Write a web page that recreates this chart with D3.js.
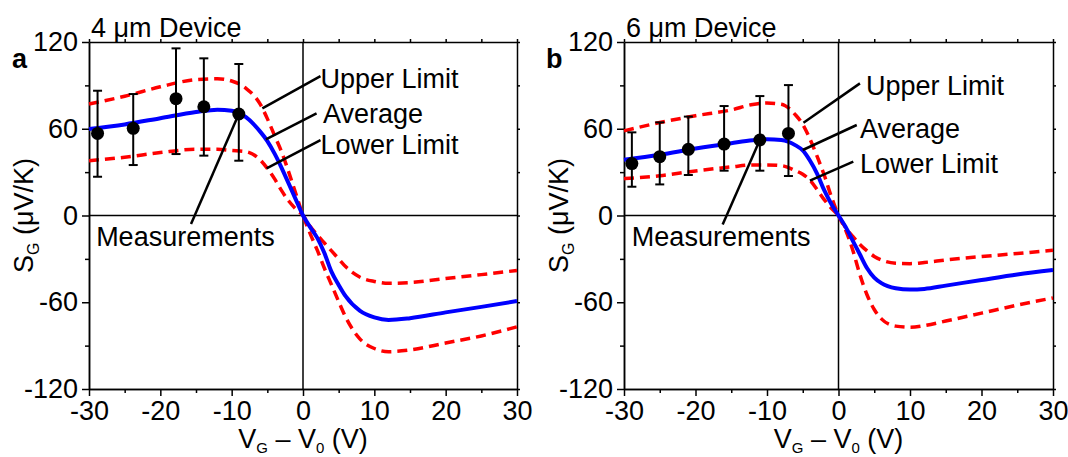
<!DOCTYPE html>
<html>
<head>
<meta charset="utf-8">
<script src="https://cdn.jsdelivr.net/npm/d3@7"></script>
<style>
body { margin: 0; background: #fff; }
svg { display: block; }
</style>
</head>
<body>
<div class="viz"></div>
<script>
// gate voltage grid shared by all model curves
var xGrid = [-30, -25, -20, -15, -12, -10, -8, -6, -5, -4, -3, -2, -1, 0,
             1, 2, 3, 4, 5, 6, 8, 10, 12, 15, 20, 25, 30];

// 4 um device
var aAvg   = [59.8, 63, 67.3, 71.6, 73.2, 72.5, 68, 58, 51.5, 43, 33, 22, 11, 0,
              -8, -15.5, -26, -39, -48, -56, -66, -70.5, -72.2, -71, -67, -63.2, -59.2];
var aUpper = [77.1, 82.5, 89, 94, 94.6, 93, 88, 77, 67, 55.5, 44, 30, 15, 0,
              -12.5, -24, -36.5, -48, -59.5, -70.5, -85.5, -92, -94.2, -93, -88.2, -83.3, -77];
var aLower = [37.9, 40.3, 43.5, 45.8, 45.8, 45, 44.2, 38.5, 32.6, 25.5, 17.2, 10, 4.5, 0,
              -7.5, -13.5, -19, -24.5, -30, -35.5, -42.7, -45.6, -46.9, -46.4, -43.6, -40.9, -38];
var aMeasX  = [-28.8, -23.8, -17.8, -13.9, -9.0];
var aMeasY  = [56.8, 60.3, 80.8, 75.2, 70.2];
var aErrHi  = [86.3, 84, 115.6, 108.7, 104.8];
var aErrLo  = [26.8, 34.9, 42.5, 41.4, 37.9];

// 6 um device
var bAvg   = [38.6, 42, 46.3, 50, 52, 52.7, 52.2, 48.5, 45, 38, 29, 17.5, 8, 0,
              -8, -17.5, -27, -36.5, -43, -46.8, -50.3, -51.2, -50.8, -48.5, -44.6, -40.8, -37.7];
var bUpper = [58.5, 64.3, 69, 73, 76.8, 77.8, 77, 69.5, 63, 53, 41, 28, 13, 0,
              -10, -24, -41, -55, -65, -71.5, -76.5, -77.3, -76.2, -73, -67.5, -62, -57];
var bLower = [25.5, 27.5, 30.8, 33.6, 35, 35, 34.5, 31, 28.5, 24.5, 18, 11, 5, 0,
              -8.5, -14.5, -20, -24.5, -28.3, -30.8, -33, -33.3, -32.5, -30.8, -28.4, -26.3, -24];
var bMeasX  = [-28.9, -25, -21, -16, -11, -7];
var bMeasY  = [35.9, 40.7, 45.8, 49.4, 52.2, 56.8];
var bErrHi  = [57.5, 64.4, 68.4, 75.7, 82.6, 90.2];
var bErrLo  = [19.9, 21.5, 28, 31, 31, 27.3];

var xTicks = [-30, -20, -10, 0, 10, 20, 30];
var xMinor = [-25, -15, -5, 5, 15, 25];
var yTicks = [-120, -60, 0, 60, 120];
var yMinor = [-90, -30, 30, 90];
var curveNames = ["Upper Limit", "Average", "Lower Limit"];

var FONT = "'Liberation Sans', Arial, Helvetica, sans-serif";

var svg = d3.select(".viz").append("svg")
    .attr("width", 1068)
    .attr("height", 457)
    .attr("font-family", FONT);

var panels = [
  { left: 89, right: 517, letter: "a", letterX: 12, title: "4 μm Device",
    avg: aAvg, upper: aUpper, lower: aLower,
    mx: aMeasX, my: aMeasY, hi: aErrHi, lo: aErrLo,
    // callouts in data units: [textX, textY, lineX1, lineY1, lineX2, lineY2]
    callouts: [[2.45, 95, 2.45, 96.4, -5.7, 74.1],
               [2.8, 70.7, 1.9, 70.7, -5.2, 52.7],
               [2.45, 49.4, 2.45, 52.2, -5.1, 32.6]],
    meas: [-29, -14.9, -15.7, -5.9, 4] },
  { left: 624, right: 1053, letter: "b", letterX: 546, title: "6 μm Device",
    avg: bAvg, upper: bUpper, lower: bLower,
    mx: bMeasX, my: bMeasY, hi: bErrHi, lo: bErrLo,
    callouts: [[3.85, 90.2, 3.0, 91.4, -4.9, 64.2],
               [3.0, 60.3, 2.55, 62.6, -5.0, 45.3],
               [3.0, 36.1, 2.07, 37.2, -4.0, 24.1]],
    meas: [-28.9, -14.9, -16.2, -6.3, 4] }
];

panels.forEach(function(p) { draw(p); });

function styleAxis(g) {
  g.attr("font-size", 27).attr("font-family", FONT);
  g.selectAll("path, line").attr("stroke", "#000").attr("stroke-width", 1.5);
  g.selectAll("text").attr("fill", "#000");
}

function draw(p) {
  var x = d3.scaleLinear().domain([-30, 30]).range([p.left, p.right]);
  var y = d3.scaleLinear().domain([-120, 120]).range([389, 42]);
  var g = svg.append("g");
  var fmt = function(d) { return String(d); };

  // zero lines
  g.append("line")
    .attr("x1", x(-30)).attr("x2", x(30)).attr("y1", y(0)).attr("y2", y(0))
    .attr("stroke", "#000").attr("stroke-width", 1.5);
  g.append("line")
    .attr("x1", x(0)).attr("x2", x(0)).attr("y1", y(-120)).attr("y2", y(120))
    .attr("stroke", "#000").attr("stroke-width", 1.5);

  // axes: major + minor ticks, mirrored frame
  g.append("g").attr("transform", "translate(0," + y(-120) + ")")
    .call(d3.axisBottom(x).tickValues(xTicks).tickSize(7).tickPadding(5).tickSizeOuter(0).tickFormat(fmt))
    .call(styleAxis);
  g.append("g").attr("transform", "translate(0," + y(-120) + ")")
    .call(d3.axisBottom(x).tickValues(xMinor).tickSize(4).tickSizeOuter(0).tickFormat(""))
    .call(styleAxis);
  g.append("g").attr("transform", "translate(" + x(-30) + ",0)")
    .call(d3.axisLeft(y).tickValues(yTicks).tickSize(7).tickPadding(4).tickSizeOuter(0).tickFormat(fmt))
    .call(styleAxis);
  g.append("g").attr("transform", "translate(" + x(-30) + ",0)")
    .call(d3.axisLeft(y).tickValues(yMinor).tickSize(4).tickSizeOuter(0).tickFormat(""))
    .call(styleAxis);
  g.append("g").attr("transform", "translate(0," + y(120) + ")")
    .call(d3.axisTop(x).tickValues(xTicks.concat(xMinor)).tickSize(3).tickSizeOuter(0).tickFormat(""))
    .call(styleAxis);
  g.append("g").attr("transform", "translate(" + x(30) + ",0)")
    .call(d3.axisRight(y).tickValues(yTicks.concat(yMinor)).tickSize(3).tickSizeOuter(0).tickFormat(""))
    .call(styleAxis);

  // model curves
  var line = d3.line()
    .x(function(d, i) { return x(xGrid[i]); })
    .y(function(d) { return y(d); })
    .curve(d3.curveMonotoneX);

  [p.upper, p.lower].forEach(function(s) {
    g.append("path").datum(s)
      .attr("d", line)
      .attr("fill", "none")
      .attr("stroke", "#ff0000")
      .attr("stroke-width", 3.5)
      .attr("stroke-dasharray", "10,6");
  });
  g.append("path").datum(p.avg)
    .attr("d", line)
    .attr("fill", "none")
    .attr("stroke", "#0000ff")
    .attr("stroke-width", 4);

  // measurements with error bars
  var meas = p.mx.map(function(v, i) {
    return { x: v, y: p.my[i], hi: p.hi[i], lo: p.lo[i] };
  });
  var eb = g.append("g").attr("stroke", "#000").attr("stroke-width", 2);
  meas.forEach(function(d) {
    eb.append("line").attr("x1", x(d.x)).attr("x2", x(d.x)).attr("y1", y(d.hi)).attr("y2", y(d.lo));
    eb.append("line").attr("x1", x(d.x) - 4.5).attr("x2", x(d.x) + 4.5).attr("y1", y(d.hi)).attr("y2", y(d.hi));
    eb.append("line").attr("x1", x(d.x) - 4.5).attr("x2", x(d.x) + 4.5).attr("y1", y(d.lo)).attr("y2", y(d.lo));
  });
  g.selectAll("circle.pt").data(meas).enter().append("circle")
    .attr("class", "pt")
    .attr("cx", function(d) { return x(d.x); })
    .attr("cy", function(d) { return y(d.y); })
    .attr("r", 6.5)
    .attr("fill", "#000");

  // callouts
  p.callouts.forEach(function(c, i) {
    g.append("line")
      .attr("x1", x(c[2])).attr("y1", y(c[3]))
      .attr("x2", x(c[4])).attr("y2", y(c[5]))
      .attr("stroke", "#000").attr("stroke-width", 2.5);
    g.append("text")
      .attr("x", x(c[0])).attr("y", y(c[1])).attr("dy", "0.35em")
      .attr("font-size", 27)
      .text(curveNames[i]);
  });
  var m = p.meas, last = meas[m[4]];
  g.append("line")
    .attr("x1", x(m[2])).attr("y1", y(m[3]))
    .attr("x2", x(last.x)).attr("y2", y(last.y))
    .attr("stroke", "#000").attr("stroke-width", 2.5);
  g.append("text")
    .attr("x", x(m[0])).attr("y", y(m[1])).attr("dy", "0.35em")
    .attr("font-size", 27)
    .text("Measurements");

  // titles and labels
  g.append("text").attr("x", p.left + 2).attr("y", 37)
    .attr("font-size", 27).text(p.title);
  g.append("text").attr("x", p.letterX).attr("y", 68)
    .attr("font-size", 27).attr("font-weight", "bold").text(p.letter);

  var yl = g.append("text")
    .attr("transform", "translate(" + (p.left - 56) + "," + y(0) + ") rotate(-90)")
    .attr("text-anchor", "middle")
    .attr("font-size", 27);
  yl.append("tspan").text("S");
  yl.append("tspan").attr("font-size", 16).attr("dy", 6).text("G");
  yl.append("tspan").attr("dy", -6).text(" (μV/K)");

  var xl = g.append("text")
    .attr("x", (p.left + p.right) / 2).attr("y", 448)
    .attr("text-anchor", "middle")
    .attr("font-size", 27);
  xl.append("tspan").text("V");
  xl.append("tspan").attr("font-size", 15).attr("dy", 5).text("G");
  xl.append("tspan").attr("dy", -5).text(" – V");
  xl.append("tspan").attr("font-size", 15).attr("dy", 5).text("0");
  xl.append("tspan").attr("dy", -5).text(" (V)");
}
</script>
</body>
</html>
